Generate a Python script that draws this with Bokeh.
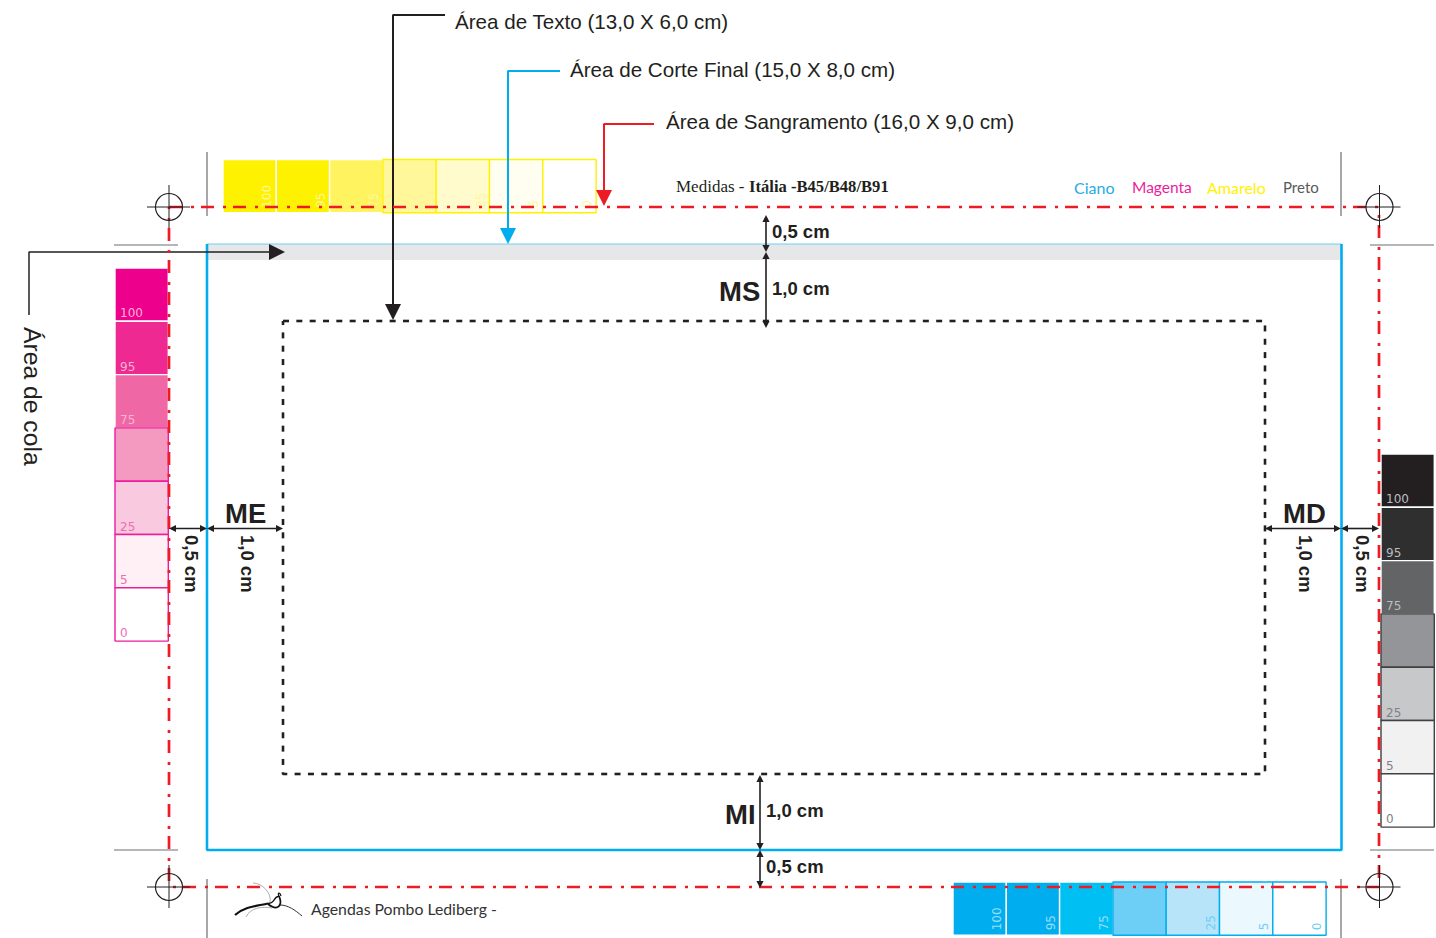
import math
import numpy as np
from bokeh.plotting import figure
from bokeh.models import Range1d
from bokeh.core.properties import value
from bokeh.embed import file_html
from bokeh.resources import INLINE

# ---- data ----
TINT_LABELS = ["100", "95", "75", "", "25", "5", "0"]
MAGENTA_FILLS = ["#EC008C", "#EE2A92", "#F067A6", "#F49AC1", "#F8C9DF", "#FEF0F5", "#FFFFFF"]
YELLOW_FILLS = ["#FFF200", "#FFF200", "#FFF45F", "#FFF799", "#FFFBCC", "#FFFEF0", "#FFFFFF"]
CYAN_FILLS = ["#00AEEF", "#00AEEF", "#00BFF3", "#6DCFF6", "#B7E4F9", "#EBF8FE", "#FFFFFF"]
BLACK_FILLS = ["#231F20", "#2F2F30", "#636466", "#939598", "#C7C8CA", "#F1F1F2", "#FFFFFF"]

TITLES = ["Área de Texto (13,0 X 6,0 cm)", "Área de Corte Final (15,0 X 8,0 cm)", "Área de Sangramento (16,0 X 9,0 cm)"]
TITLE_X = [455, 570, 666]
TITLE_Y = [21, 69, 121]
INK = "#231F20"
RED = "#ED1C24"
CYAN = "#00AEEF"
SWATCH = 53.3

p = figure(width=1436, height=938, output_backend="svg", toolbar_location=None,
           x_range=Range1d(0.5, 1436.5), y_range=Range1d(938.5, 0.5), min_border=0,
           background_fill_color="white", border_fill_color="white")
p.axis.visible = False
p.grid.visible = False
p.outline_line_color = None


def txt(x, y, s, color=INK, size=18, font="Liberation Sans", style="normal", angle=0.0, align="left"):
    p.text([x], [y], text=[s], text_color=color, text_font=value(font),
           text_font_size=f"{size}px", text_font_style=style, angle=angle,
           text_align=align, text_baseline="middle")


def line(xs, ys, color=INK, width=1.5, dash="solid", offset=0):
    p.line(xs, ys, line_color=color, line_width=width, line_dash=dash, line_dash_offset=offset, line_cap="butt")


def head(x, y, dx, dy, length, half, color=INK):
    """Triangle with its tip at x,y, pointing along dx,dy."""
    bx, by = x - dx * length, y - dy * length
    p.patch([x, bx - dy * half, bx + dy * half], [y, by + dx * half, by - dx * half],
            fill_color=color, line_color=None)


def dashed_box(x0, y0, x1, y1, period, dash, color, width):
    """Closed dashed rectangle, clockwise from the top left, with a fractional dash period."""
    corners = [(x0, y0), (x1, y0), (x1, y1), (x0, y1), (x0, y0)]
    lengths = np.cumsum([0] + [abs(b[0] - a[0]) + abs(b[1] - a[1]) for a, b in zip(corners, corners[1:])])

    def at(s):
        k = min(np.searchsorted(lengths, s, side="right") - 1, 3)
        t = (s - lengths[k]) / (lengths[k + 1] - lengths[k])
        a, b = corners[k], corners[k + 1]
        return a[0] + (b[0] - a[0]) * t, a[1] + (b[1] - a[1]) * t

    xs, ys = [], []
    for s in np.arange(0, lengths[-1], period):
        e = min(s + dash, lengths[-1])
        stops = [s] + [l for l in lengths if s < l < e] + [e]
        pts = [at(v) for v in stops]
        xs.append([q[0] for q in pts])
        ys.append([q[1] for q in pts])
    p.multi_line(xs, ys, line_color=color, line_width=width, line_cap="butt")


def swatches(x0, y0, fills, horizontal, outline, label_on_dark, label_on_light):
    n = np.arange(len(fills))
    left = x0 + n * SWATCH if horizontal else np.full(len(fills), x0)
    top = np.full(len(fills), y0) if horizontal else y0 + n * SWATCH
    for i, fill in enumerate(fills):
        light = i >= 3
        p.quad(left=[left[i]], right=[left[i] + SWATCH], top=[top[i]], bottom=[top[i] + SWATCH],
               fill_color=fill, line_color=outline if light else "white", line_width=1.4)
        col = label_on_light if i >= 4 else label_on_dark
        if horizontal:
            p.text([left[i] + SWATCH - 9.5], [top[i] + SWATCH - 5], text=[TINT_LABELS[i]], text_color=col,
                   text_font=value("DejaVu Sans"), text_font_size="12px", angle=math.pi / 2,
                   text_align="left", text_baseline="middle")
        else:
            p.text([left[i] + 5], [top[i] + SWATCH - 8.5], text=[TINT_LABELS[i]], text_color=col,
                   text_font=value("DejaVu Sans"), text_font_size="12px",
                   text_align="left", text_baseline="middle")


# grey glue strip and the cut rectangle
p.quad(left=[207], right=[1341.5], top=[244], bottom=[260], fill_color="#E6E7E8", line_color=None)
line([207, 1341.5], [244, 244], "#6DCFF6", 1)
line([207, 207, 1341.5, 1341.5], [244, 850, 850, 244], CYAN, 2.6)

# text area
dashed_box(283, 321, 1265, 774, 13.33, 6, INK, 2.6)

# crop marks
for xs, ys in [([207, 207], [152, 216]), ([1341, 1341], [152, 216]),
               ([207, 207], [879, 938]), ([1341, 1341], [879, 938]),
               ([114, 178], [245, 245]), ([1370, 1434], [245, 245]),
               ([114, 178], [850, 850]), ([1370, 1434], [850, 850])]:
    line(xs, ys, "#6D6E71", 1.2)

# colour bars
swatches(223, 159.5, YELLOW_FILLS, True, "#FFF200", "#FFF799", "#FFF799")
swatches(953, 882, CYAN_FILLS, True, "#00AEEF", "#9ADDF8", "#6DCFF6")
swatches(115, 268, MAGENTA_FILLS, False, "#EC1C9C", "#F9B4D3", "#F26CB0")
swatches(1381, 454, BLACK_FILLS, False, "#414042", "#BCBDC0", "#808285")

# leaders
line([445, 393, 393], [15, 15, 306], INK, 2)
head(393, 320, 0, 1, 16, 8)
line([560, 508, 508], [71, 71, 230], CYAN, 2)
head(508, 244, 0, 1, 16, 8, CYAN)
line([654, 604, 604], [124, 124, 192], RED, 2)
head(604, 206, 0, 1, 16, 8, RED)
line([29, 29, 271], [315, 252, 252])
head(285, 252, 1, 0, 16, 8)

# red bleed lines
line([169, 1380], [207, 207], RED, 2.7, "13 9 3 7")
line([169, 1380], [887, 887], RED, 2.7, "13 9 3 7", 18)
line([169, 169], [207, 887], RED, 2.7, "13 9 3 7", 11)
line([1379, 1379], [207, 887], RED, 2.7, "13 9 3 7", 14)

# registration marks
for cx, cy in [(169, 207), (1379.5, 207), (169, 887), (1379.5, 887)]:
    line([cx - 22, cx + 21], [cy, cy], "#231F20", 1)
    line([cx, cx], [cy - 22, cy + 21], "#231F20", 1)
    p.circle([cx], [cy], radius=13.5, fill_color=None, line_color="#231F20", line_width=1.2)

# small dimension arrows
for a, b, fixed, vertical in [(215, 252, 766, True), (252, 328, 766, True),
                              (775, 850, 760, True), (850, 888, 760, True),
                              (169, 207, 528.5, False), (207, 283, 528.5, False),
                              (1265, 1341, 528.5, False), (1341, 1379, 528.5, False)]:
    if vertical:
        line([fixed, fixed], [a + 3, b - 3], INK, 1.6)
        head(fixed, a, 0, -1, 7, 3.6)
        head(fixed, b, 0, 1, 7, 3.6)
    else:
        line([a + 3, b - 3], [fixed, fixed], INK, 1.6)
        head(a, fixed, -1, 0, 7, 3.6)
        head(b, fixed, 1, 0, 7, 3.6)

# titles
for s, x, y in zip(TITLES, TITLE_X, TITLE_Y):
    txt(x, y, s, "#231F20", 20.6)
txt(32, 327, "Área de cola", "#231F20", 24.7, angle=-math.pi / 2)

# dimension labels
BOLD = dict(style="bold", size=18.5, color="#231F20")
txt(772, 231, "0,5 cm", **BOLD)
txt(772, 288, "1,0 cm", **BOLD)
txt(766, 810, "1,0 cm", **BOLD)
txt(766, 866, "0,5 cm", **BOLD)
for x, s in [(191, "0,5 cm"), (247, "1,0 cm"), (1305, "1,0 cm"), (1362, "0,5 cm")]:
    txt(x, 535, s, angle=-math.pi / 2, **BOLD)
BIG = dict(style="bold", size=27.5, color="#231F20")
txt(719, 291, "MS", **BIG)
txt(225, 513, "ME", **BIG)
txt(1283, 513, "MD", **BIG)
txt(725, 814, "MI", **BIG)

# header texts
txt(676, 186.5, "Medidas - ", "#231F20", 17, "Liberation Serif")
txt(749, 186.5, "Itália -B45/B48/B91", "#231F20", 16.6, "Liberation Serif", "bold")
txt(1074, 187, "Ciano", "#29ABE2", 16, "Lato")
txt(1132, 187, "Magenta", "#EC1C9C", 15.5, "Lato")
txt(1207, 187, "Amarelo", "#FFF200", 16, "Lato")
txt(1283, 187, "Preto", "#58595B", 15, "Lato")
txt(311, 908, "Agendas Pombo Lediberg -", "#333333", 15.8, "Lato")

# bird logo
p.bezier(x0=[235], y0=[915], x1=[268], y1=[903.5], cx0=[245], cy0=[906], cx1=[258], cy1=[906],
         line_color="#111111", line_width=2.2)
p.bezier(x0=[268], y0=[903.5], x1=[279], y1=[896], cx0=[276], cy0=[903], cx1=[272], cy1=[898],
         line_color="#111111", line_width=1.5)
p.bezier(x0=[268], y0=[904], x1=[279], y1=[896], cx0=[278], cy0=[912], cx1=[283], cy1=[905],
         line_color="#111111", line_width=1.8)
p.bezier(x0=[279], y0=[896], x1=[281], y1=[896], cx0=[277], cy0=[892], cx1=[280], cy1=[892],
         line_color="#111111", line_width=1.2)
p.bezier(x0=[280], y0=[905], x1=[302], y1=[916], cx0=[288], cy0=[905], cx1=[295], cy1=[910],
         line_color="#333333", line_width=1)
p.bezier(x0=[253], y0=[883], x1=[270], y1=[902], cx0=[262], cy0=[883], cx1=[272], cy1=[893],
         line_color="#999999", line_width=0.8)
p.bezier(x0=[246], y0=[917], x1=[272], y1=[908], cx0=[250], cy0=[908], cx1=[262], cy1=[906],
         line_color="#999999", line_width=0.8)

open("out.html", "w").write(file_html(p, INLINE))
